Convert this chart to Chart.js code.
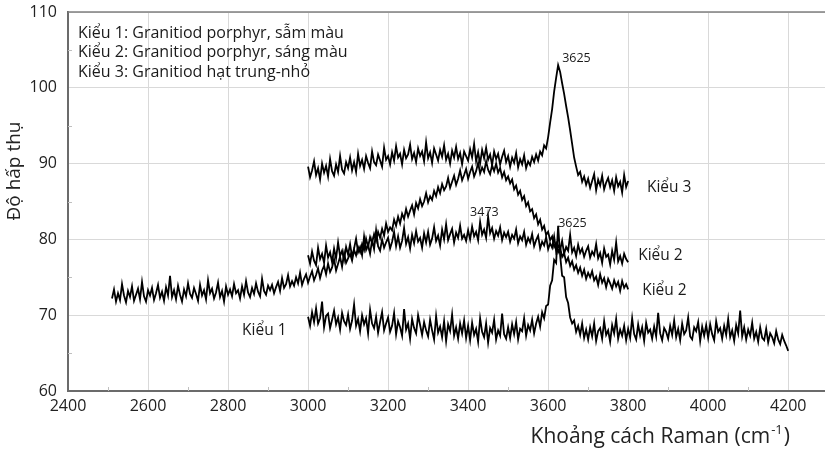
<!DOCTYPE html>
<html>
<head>
<meta charset="utf-8">
<script src="https://cdn.jsdelivr.net/npm/chart.js@4.4.1/dist/chart.umd.min.js"></script>
<style>
  html, body { margin: 0; padding: 0; background: #fff; }
</style>
</head>
<body>
<canvas id="grafica" width="825" height="449"></canvas>
<script>
// Raman cm-1, mỗi chuỗi lấy mẫu mỗi 5 cm-1 bắt đầu từ xStart
const xStep = 5

// Kiểu 1 (3000 -> 4200)
const kieu1Start = 3000
const kieu1 = [
  69.8, 68.6, 70.4, 69.1, 70.9, 68.9, 69.6, 71.8, 68.4, 69.9, 70.2, 68.3, 69.4, 70.6, 68.8, 69.7, 68.1, 70.3, 69.2, 68.7,
  70.1, 68.2, 69.3, 71.4, 68.6, 69.5, 67.9, 70.0, 68.8, 69.6, 67.6, 70.7, 68.9, 68.3, 69.8, 67.7, 69.1, 70.4, 68.0, 68.9,
  69.7, 67.8, 68.6, 70.3, 67.5, 69.2, 68.4, 67.3, 70.8, 68.1, 68.9, 66.9, 69.5, 68.3, 67.6, 70.0, 68.7, 67.4, 69.1, 68.0,
  67.2, 69.4, 68.0, 66.8, 69.9, 67.7, 68.5, 67.1, 69.2, 66.6, 68.8, 67.9, 70.1, 67.3, 68.4, 66.9, 68.9, 67.6, 69.3, 67.0,
  68.6, 66.7, 69.0, 67.4, 68.2, 66.5, 69.6, 67.8, 67.1, 68.9, 66.4, 68.3, 67.7, 69.4, 66.8, 68.0, 67.3, 70.2, 67.5, 66.9,
  68.4, 67.0, 68.8, 67.5, 69.1, 66.8, 68.2, 67.9, 69.6, 67.3, 68.7, 68.0, 69.4, 67.6, 68.9, 69.8, 68.5, 70.4, 69.6, 71.2,
  71.4, 73.9, 74.6, 77.3, 76.9, 81.8, 77.9, 75.2, 75.0, 72.4, 71.6, 69.7, 68.9, 69.3, 67.8, 68.6, 67.4, 68.9, 67.0, 68.1,
  66.8, 68.4, 67.2, 68.9, 66.6, 67.9, 68.3, 66.9, 69.2, 67.4, 68.0, 66.5, 68.7, 67.6, 69.5, 66.9, 68.1, 67.3, 68.6, 66.7,
  68.2, 67.0, 69.6, 67.5, 66.8, 68.8, 67.3, 68.4, 66.6, 69.0, 67.7, 68.1, 66.9, 68.5, 67.2, 70.3, 67.6, 66.7, 68.3, 67.8,
  66.9, 68.6, 67.4, 69.3, 67.1, 68.2, 66.7, 68.9, 67.5, 68.0, 69.7, 67.2, 66.8, 68.4, 67.9, 69.1, 66.6, 68.5, 67.3, 68.7,
  67.0, 68.8, 67.5, 66.7, 69.2, 67.8, 68.3, 66.9, 68.6, 67.4, 69.5, 67.1, 68.0, 66.6, 68.7, 67.6, 70.6, 67.2, 68.4, 66.8,
  68.1, 67.3, 69.0, 66.9, 67.8, 66.5, 68.4, 67.0, 66.7, 68.2, 66.4, 67.6, 67.1, 66.3, 67.9, 66.8, 66.2, 67.4, 66.6, 66.0, 65.3
]

// Kiểu 2, đường trên (3000 -> 3800)
const kieu2aStart = 3000
const kieu2a = [
  77.9, 76.8, 78.4, 77.2, 76.6, 78.9, 77.4, 78.1, 76.9, 79.2, 77.6, 78.3, 77.0, 78.8, 77.5, 79.6, 77.8, 78.5, 77.3, 79.0,
  78.0, 79.4, 77.7, 78.8, 80.1, 78.3, 79.0, 77.9, 80.4, 78.6, 79.3, 78.1, 79.9, 78.7, 81.2, 79.1, 78.5, 80.0, 78.9, 79.6,
  80.2, 78.8, 79.7, 81.0, 79.1, 80.4, 78.9, 79.8, 81.5, 79.4, 80.3, 78.8, 80.6, 79.5, 81.1, 79.7, 80.2, 78.9, 80.8, 79.6,
  81.0, 79.3, 80.1, 81.6, 79.8, 80.5, 79.2, 81.3, 80.0, 82.0, 79.9, 80.7, 81.4, 79.6, 80.9, 80.2, 81.8, 80.1, 80.6, 79.8,
  81.2, 80.0, 81.7, 80.4, 81.0, 79.9, 82.3, 80.6, 81.3, 80.2, 83.0, 80.8, 81.5, 80.1, 81.1, 80.5, 81.6, 79.9, 80.9, 80.3,
  81.0, 79.7, 80.6, 80.1, 81.3, 79.5, 80.4, 79.9, 81.0, 79.3, 80.2, 79.6, 80.7, 79.1, 79.9, 80.5, 78.8, 79.7, 79.2, 80.3,
  78.7, 79.5, 78.9, 80.4, 78.4, 79.2, 78.6, 79.8, 78.1, 79.0, 78.5, 80.6, 78.3, 78.9, 77.8, 79.3, 78.2, 78.8, 77.7, 78.5,
  79.1, 77.6, 78.4, 77.9, 79.4, 77.5, 78.2, 76.9, 78.8, 77.7, 78.0, 76.7, 78.5, 77.3, 79.6, 77.1, 77.8, 76.8, 78.1, 77.4, 77.0
]

// Kiểu 2, đường bướu rộng (2510 -> 3800)
const kieu2bStart = 2510
const kieu2b = [
  72.2, 73.4, 71.8, 72.9, 72.0, 74.1, 72.6, 71.7, 73.2, 72.4, 73.8, 71.9, 72.7, 73.5, 72.1, 74.4, 72.5, 71.8, 73.3, 72.6,
  73.6, 72.0, 72.9, 74.0, 72.3, 73.1, 71.9, 73.7, 72.6, 75.2, 72.4, 73.3, 72.1, 73.9, 72.7, 71.8, 73.4, 72.5, 74.2, 72.8,
  72.3, 73.6, 72.8, 71.9, 74.0, 72.6, 73.3, 72.1, 74.6, 72.9, 73.5, 72.2, 73.0, 74.3, 72.4, 73.2, 71.8, 73.8, 72.7, 73.4,
  72.5, 74.1, 72.9, 73.3, 72.2, 73.8, 72.7, 74.5, 73.0, 72.4, 73.6, 72.8, 74.2, 73.1, 72.5, 74.8, 73.2, 72.7, 73.9, 73.3,
  74.0, 72.9, 73.7, 74.4, 73.2, 74.9, 73.6, 74.1, 75.3, 73.8, 74.5, 73.9, 75.0, 74.2, 75.6, 74.0, 74.8, 75.4, 74.3, 75.1,
  75.8, 74.6, 75.3, 76.2, 74.9, 75.9, 76.5, 75.4, 76.8, 75.7, 76.3, 77.4, 75.9, 76.8, 77.7, 76.4, 78.2, 76.9, 77.5, 78.1,
  77.2, 78.6, 77.9, 79.0, 78.3, 79.4, 78.6, 80.1, 79.0, 80.3, 79.5, 80.7, 79.8, 81.0, 80.2, 81.4, 80.5, 82.1, 81.0, 81.6,
  81.2, 82.6, 81.8, 83.0, 82.1, 83.4, 82.7, 84.0, 83.0, 83.8, 84.5, 83.3, 84.8, 84.1, 85.3, 84.4, 85.0, 86.1, 84.9, 85.7,
  85.2, 86.4, 85.7, 86.9, 86.1, 87.3, 86.5, 87.0, 88.1, 86.8, 87.6, 88.4, 87.2, 88.0, 89.1, 87.8, 88.5, 89.3, 88.0, 88.9,
  89.6, 88.3, 89.0, 90.1, 88.7, 89.5, 88.9, 90.3, 89.2, 88.6, 89.8, 89.0, 90.0, 88.8, 89.4, 88.2, 88.9, 87.8, 88.3, 87.4,
  87.9, 86.6, 87.1, 85.9, 86.4, 85.2, 85.7, 84.4, 84.9, 83.7, 84.0, 82.8, 83.3, 82.0, 82.6, 81.3, 81.8, 80.6, 81.0, 79.9,
  80.4, 79.0, 79.5, 78.3, 78.9, 77.7, 78.2, 77.0, 77.6, 76.5, 77.1, 76.0, 76.6, 75.6, 76.3, 75.2, 76.0, 74.8, 75.6, 75.0,
  75.8, 74.6, 75.1, 74.0, 75.4, 74.3, 74.9, 73.7, 74.8, 74.2, 73.5, 74.6, 73.8, 74.4, 73.2, 74.5, 73.6, 74.1, 73.4
]

// Kiểu 3 (3000 -> 3800)
const kieu3Start = 3000
const kieu3 = [
  89.6, 88.2, 89.1, 90.3, 88.5, 89.4, 87.9, 90.0, 88.8, 89.7, 88.3, 90.6, 89.0, 88.4, 89.9, 88.9, 91.0, 89.2, 88.7, 90.2,
  89.4, 90.8, 89.1, 90.2, 88.9, 91.3, 89.7, 90.5, 89.3, 91.0, 90.1, 89.4, 91.6, 90.2, 89.8, 91.2, 90.4, 89.6, 92.1, 90.5,
  91.0, 89.9, 91.5, 90.4, 92.3, 90.8, 91.3, 89.9, 91.8, 90.7, 91.2, 92.5, 90.6, 91.4, 90.2, 92.0, 91.0, 91.6, 90.3, 92.8,
  90.7, 91.5, 90.1, 92.0, 91.2, 90.4, 91.8, 90.9, 92.4, 90.5, 91.3, 90.0, 91.7, 90.8, 92.2, 90.6, 91.4, 89.9, 91.6, 91.0,
  90.4, 91.9, 90.8, 92.6, 90.3, 91.5, 90.0, 91.8, 90.7, 92.1, 90.5, 91.2, 89.8, 91.6, 90.6, 91.3, 89.9, 90.9, 91.7, 90.2,
  91.0, 89.6, 90.8, 90.1, 91.4, 89.5, 90.6, 89.9, 91.1, 89.4, 90.3, 89.8, 90.9, 90.2, 91.2, 90.4, 91.6, 91.1, 92.4, 92.0,
  93.5, 95.4, 97.2, 99.5, 101.3, 103.0, 102.1, 100.6, 99.2, 97.6, 96.1, 94.4, 92.6, 90.8, 89.6, 88.5, 88.9, 87.6, 88.3, 87.2,
  88.0, 86.8, 87.7, 88.6, 86.5, 87.9, 87.1, 88.4, 86.6, 87.5, 88.1, 86.9, 87.8, 86.4, 88.2, 87.0, 87.6, 86.2, 88.5, 86.9, 87.7
]

const xTicks = [2400, 2600, 2800, 3000, 3200, 3400, 3600, 3800, 4000, 4200]
const yTicks = [60, 70, 80, 90, 100, 110]

const legendLines = [
  'Kiểu 1: Granitiod porphyr, sẫm màu',
  'Kiểu 2: Granitiod porphyr, sáng màu',
  'Kiểu 3: Granitiod hạt trung-nhỏ'
]

// nhãn trên đồ thị (toạ độ theo dữ liệu)
const notes = [
  { text: '3625', x: 3635, y: 103.9, size: 12.5 },
  { text: '3473', x: 3405, y: 83.5, size: 12.5 },
  { text: '3625', x: 3625, y: 82.1, size: 12.5 },
  { text: 'Kiểu 3', x: 3847, y: 86.8, size: 15.5 },
  { text: 'Kiểu 2', x: 3825, y: 77.8, size: 15.5 },
  { text: 'Kiểu 2', x: 3835, y: 73.2, size: 15.5 },
  { text: 'Kiểu 1', x: 2835, y: 68.0, size: 15.5 }
]

function toPoints(start, values) {
  return values.map((v, i) => ({ x: start + i * xStep, y: v }))
}

function line(label, start, values) {
  return {
    label: label,
    data: toPoints(start, values),
    borderColor: '#000',
    borderWidth: 1.8,
    pointRadius: 0,
    tension: 0,
    fill: false
  }
}

const FONT = '"Open Sans", sans-serif'

const extras = {
  id: 'extras',
  beforeDatasetsDraw(chart) {
    const { ctx, chartArea: a, scales } = chart
    ctx.save()
    // khung trên
    ctx.strokeStyle = '#7f7f7f'
    ctx.lineWidth = 1.5
    ctx.beginPath()
    ctx.moveTo(a.left, a.top)
    ctx.lineTo(a.right, a.top)
    ctx.stroke()
    // vạch phụ
    ctx.strokeStyle = '#bfbfbf'
    ctx.lineWidth = 1
    ctx.beginPath()
    for (let i = 0; i < xTicks.length; i++) {
      const px = Math.round(scales.x.getPixelForValue(xTicks[i] + 100)) + 0.5
      if (px > a.right) continue
      ctx.moveTo(px, a.bottom)
      ctx.lineTo(px, a.bottom - 4)
    }
    for (let i = 0; i < yTicks.length - 1; i++) {
      const py = Math.round(scales.y.getPixelForValue(yTicks[i] + 5)) + 0.5
      ctx.moveTo(a.left, py)
      ctx.lineTo(a.left + 4, py)
    }
    ctx.stroke()
    ctx.restore()
  },
  afterDraw(chart) {
    const { ctx, chartArea: a, scales } = chart
    ctx.save()
    ctx.fillStyle = '#1a1a1a'
    ctx.textBaseline = 'middle'
    ctx.textAlign = 'left'

    ctx.font = '16px ' + FONT
    legendLines.forEach((t, i) => ctx.fillText(t, a.left + 10, a.top + 21 + i * 19.5))

    notes.forEach(n => {
      ctx.font = n.size + 'px ' + FONT
      ctx.fillText(n.text, scales.x.getPixelForValue(n.x), scales.y.getPixelForValue(n.y))
    })

    // tiêu đề trục x
    ctx.fillStyle = '#222'
    const big = '21px ' + FONT
    const small = '13px ' + FONT
    ctx.font = big
    const t1 = 'Khoảng cách Raman (cm'
    const sup = '-1'
    const t2 = ')'
    const w1 = ctx.measureText(t1).width
    const w3 = ctx.measureText(t2).width
    ctx.font = small
    const w2 = ctx.measureText(sup).width
    const xs = 790 - (w1 + w2 + w3 + 2)
    const ty = 437
    ctx.font = big
    ctx.fillText(t1, xs, ty)
    ctx.font = small
    ctx.fillText(sup, xs + w1 + 1, ty - 7)
    ctx.font = big
    ctx.fillText(t2, xs + w1 + w2 + 2, ty)

    // tiêu đề trục y
    ctx.translate(15, 171)
    ctx.rotate(-Math.PI / 2)
    ctx.textAlign = 'center'
    ctx.font = '19px ' + FONT
    ctx.fillText('Độ hấp thụ', 0, 0)
    ctx.restore()
  }
}

const graph = document.querySelector('#grafica')

new Chart(graph, {
  type: 'line',
  data: {
    datasets: [
      line('Kiểu 1', kieu1Start, kieu1),
      line('Kiểu 2', kieu2aStart, kieu2a),
      line('Kiểu 2', kieu2bStart, kieu2b),
      line('Kiểu 3', kieu3Start, kieu3)
    ]
  },
  options: {
    responsive: false,
    animation: false,
    devicePixelRatio: 1,
    layout: { padding: { top: 12, right: 0, left: 0, bottom: 0 } },
    plugins: { legend: { display: false }, tooltip: { enabled: false } },
    scales: {
      x: {
        type: 'linear',
        min: 2400,
        max: 4292,
        afterBuildTicks: s => { s.ticks = xTicks.map(v => ({ value: v })) },
        afterFit: s => { s.height = 58; s.paddingLeft = 0; s.paddingRight = 0 },
        grid: { color: '#d9d9d9', drawTicks: false },
        border: { color: '#6b6b6b', width: 2 },
        ticks: { padding: 6, color: '#222', font: { family: FONT, size: 16 }, maxRotation: 0, callback: v => String(v) }
      },
      y: {
        min: 60,
        max: 110,
        afterBuildTicks: s => { s.ticks = yTicks.map(v => ({ value: v })) },
        afterFit: s => { s.width = 68; s.paddingTop = 0; s.paddingBottom = 0 },
        grid: { color: '#d9d9d9', drawTicks: false },
        border: { color: '#6b6b6b', width: 2 },
        ticks: { padding: 11, color: '#222', font: { family: FONT, size: 16 }, callback: v => String(v) }
      }
    }
  },
  plugins: [extras]
})
</script>
</body>
</html>
